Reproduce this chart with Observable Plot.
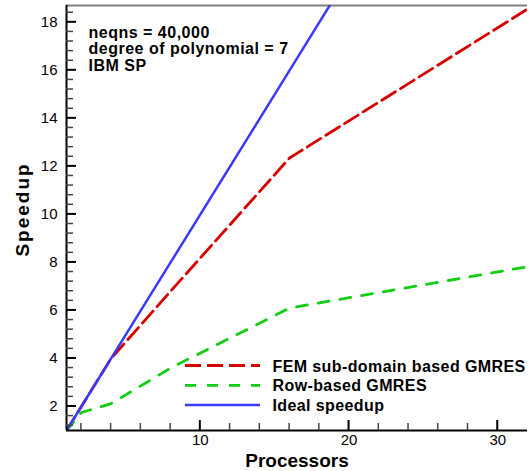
<!DOCTYPE html>
<html>
<head>
<meta charset="utf-8">
<script src="https://cdn.jsdelivr.net/npm/d3@7"></script>
<script src="https://cdn.jsdelivr.net/npm/@observablehq/plot@0.6"></script>
<style>
  html, body { margin: 0; padding: 0; background: white; }
</style>
</head>
<body>
<div id="chart"></div>
<script>
// ---- data ----
const processors   = [1, 2, 4, 8, 16, 32];
const femSpeedup   = [1, 2, 4, 6.8, 12.35, 18.55];
const rowSpeedup   = [1, 1.75, 2.12, 3.6, 6.1, 7.82];
const idealSpeedup = [1, 2, 4, 8, 16, 32];

const seriesNames = ["FEM sub-domain based GMRES", "Row-based GMRES", "Ideal speedup"];
const annotation = ["neqns = 40,000", "degree of polynomial = 7", "IBM SP"];

const xMajorTicks = [10, 20, 30];
const xMinorTicks = [2, 4, 6, 8, 12, 14, 16, 18, 22, 24, 26, 28];
const yMajorTicks = [2, 4, 6, 8, 10, 12, 14, 16, 18];
const yMinorTicks = [1.2, 1.6, 2.4, 2.8, 3.2, 3.6, 4.4, 4.8, 5.2, 5.6, 6.4, 6.8, 7.2, 7.6,
  8.4, 8.8, 9.2, 9.6, 10.4, 10.8, 11.2, 11.6, 12.4, 12.8, 13.2, 13.6, 14.4, 14.8, 15.2, 15.6,
  16.4, 16.8, 17.2, 17.6, 18.4];

const xDomain = [1, 32];
const yDomain = [1, 18.7];

// ---- table ----
const fem   = processors.map((p, i) => ({p, s: femSpeedup[i]}));
const row   = processors.map((p, i) => ({p, s: rowSpeedup[i]}));
const ideal = processors.map((p, i) => ({p, s: idealSpeedup[i]}));

// ---- layout ----
const W = 529, H = 471;
const mL = 66, mR = 2, mT = 5, mB = 41;
const FONT = "'Liberation Sans', Arial, Helvetica, sans-serif";
const colors = {fem: "#d60000", row: "#14cc14", ideal: "#3a3aff"};
const majLen = 10, minLen = 7;

const chart = Plot.plot({
  width: W,
  height: H,
  marginLeft: mL, marginRight: mR, marginTop: mT, marginBottom: mB,
  style: {fontFamily: FONT, fontSize: "15px", background: "white", color: "black"},
  x: {domain: xDomain, ticks: xMajorTicks, tickSize: 0, tickPadding: 4, label: null},
  y: {domain: yDomain, ticks: yMajorTicks, tickSize: 0, tickPadding: 9, label: null},
  marks: [
    // frame top
    Plot.ruleY([yDomain[1]], {stroke: "#808080", strokeWidth: 2}),
    // series
    Plot.line(fem, {x: "p", y: "s", stroke: colors.fem, strokeWidth: 2.8, strokeDasharray: "16,6", clip: true}),
    Plot.line(row, {x: "p", y: "s", stroke: colors.row, strokeWidth: 2.8, strokeDasharray: "11,11", clip: true}),
    Plot.line(ideal, {x: "p", y: "s", stroke: colors.ideal, strokeWidth: 2.5, clip: true}),
    // axis lines
    Plot.ruleX([xDomain[0]], {stroke: "black", strokeWidth: 2}),
    Plot.ruleY([yDomain[0]], {stroke: "black", strokeWidth: 2}),
    // annotation
    Plot.text([annotation.join("\n")], {
      frameAnchor: "top-left", dx: 22, dy: 21, lineAnchor: "top", textAnchor: "start",
      fontSize: 16, fontWeight: "bold", lineHeight: 1.02, fill: "black"
    }),
    // axis titles
    Plot.text(["Processors"], {
      frameAnchor: "bottom", dy: 36, lineAnchor: "bottom", textAnchor: "middle",
      fontSize: 19, fontWeight: "bold", fill: "black"
    }),
    Plot.text(["Speedup"], {
      frameAnchor: "left", dx: -37.4, dy: -8.5, rotate: -90, lineAnchor: "bottom", textAnchor: "middle",
      fontSize: 19, fontWeight: "bold", fill: "black"
    })
  ]
});

document.getElementById("chart").appendChild(chart);

const svg = d3.select(chart);
svg.selectAll("text")
  .filter(function () { return this.textContent.indexOf("neqns") === 0; })
  .style("letter-spacing", "0.5px");
svg.selectAll("text")
  .filter(function () { return this.textContent === "Speedup"; })
  .style("letter-spacing", "2px");

// inward ticks, positioned with Plot's own scales
const sx = chart.scale("x"), sy = chart.scale("y");
const x0 = sx.apply(xDomain[0]), y0 = sy.apply(yDomain[0]);
const tg = svg.append("g").attr("class", "inward-ticks");
yMinorTicks.forEach(v => tg.append("line")
  .attr("x1", x0).attr("x2", x0 + minLen).attr("y1", sy.apply(v)).attr("y2", sy.apply(v))
  .attr("stroke", "#444").attr("stroke-width", 1.5));
yMajorTicks.forEach(v => tg.append("line")
  .attr("x1", x0).attr("x2", x0 + majLen).attr("y1", sy.apply(v)).attr("y2", sy.apply(v))
  .attr("stroke", "black").attr("stroke-width", 2));
xMinorTicks.forEach(v => tg.append("line")
  .attr("x1", sx.apply(v)).attr("x2", sx.apply(v)).attr("y1", y0).attr("y2", y0 - minLen)
  .attr("stroke", "#444").attr("stroke-width", 1.5));
xMajorTicks.forEach(v => tg.append("line")
  .attr("x1", sx.apply(v)).attr("x2", sx.apply(v)).attr("y1", y0).attr("y2", y0 - majLen)
  .attr("stroke", "black").attr("stroke-width", 2));

// legend
const legendItems = [
  {name: seriesNames[0], color: colors.fem, dash: "16,6", width: 2.8},
  {name: seriesNames[1], color: colors.row, dash: "11,11", width: 2.8},
  {name: seriesNames[2], color: colors.ideal, dash: null, width: 2.5}
];
const lg = svg.append("g").attr("class", "legend");
const rowsY = [365.5, 385.3, 405];
legendItems.forEach((it, i) => {
  const y = rowsY[i];
  const ln = lg.append("line")
    .attr("x1", 185).attr("x2", 260).attr("y1", y).attr("y2", y)
    .attr("stroke", it.color).attr("stroke-width", it.width);
  if (it.dash) ln.attr("stroke-dasharray", it.dash);
  lg.append("text")
    .attr("x", 272.5).attr("y", y + 6)
    .attr("text-anchor", "start")
    .attr("font-size", 16).attr("font-weight", "bold")
    .attr("font-family", FONT)
    .style("letter-spacing", "0.4px")
    .attr("fill", "black")
    .text(it.name);
});
</script>
</body>
</html>
